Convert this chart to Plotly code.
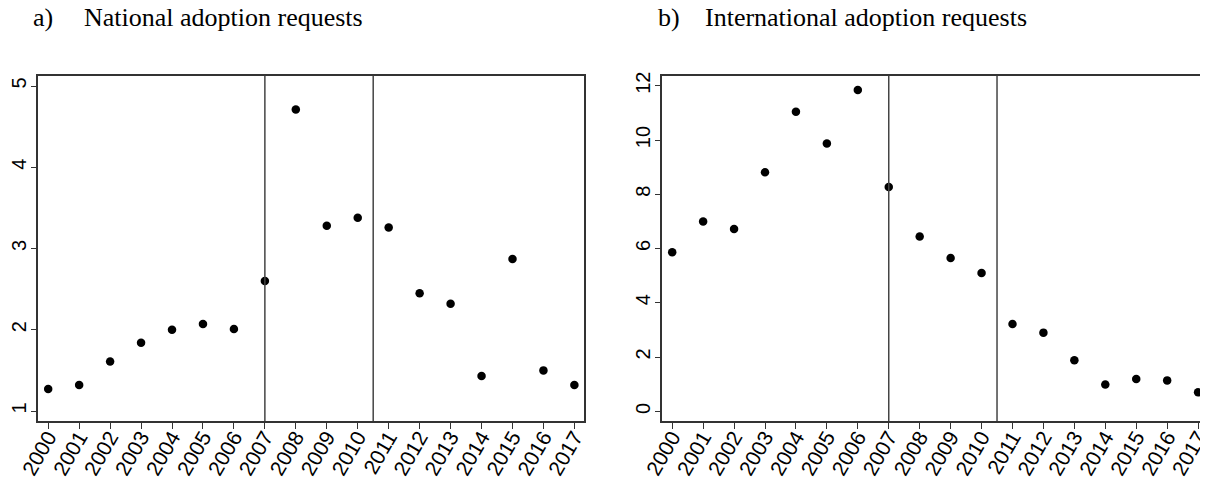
import plotly.graph_objects as go

years = list(range(2000, 2018))
national = [1.27, 1.32, 1.61, 1.84, 2.00, 2.07, 2.01, 2.60, 4.71,
            3.28, 3.38, 3.26, 2.45, 2.32, 1.43, 2.87, 1.50, 1.32]
international = [5.86, 7.00, 6.72, 8.81, 11.04, 9.87, 11.84, 8.27, 6.44,
                 5.65, 5.10, 3.22, 2.90, 1.88, 0.99, 1.19, 1.14, 0.70]
vlines = [2007, 2010.5]
ticks_a = [1, 2, 3, 4, 5]
ticks_b = [0, 2, 4, 6, 8, 10, 12]
title_labels = ["a)", "b)"]
title_texts = ["National adoption requests", "International adoption requests"]

# page body has an 8px margin; figure occupies the rest of the 1208x479 window
OFF = 8
W, H = 1208 - OFF, 479 - OFF


def px(x):
    return (x - OFF) / W


def py(y):
    return 1 - (y - OFF) / H


fig = go.Figure()
fig.add_trace(go.Scatter(x=years, y=national, mode="markers",
                         marker=dict(color="black", size=8.5), xaxis="x", yaxis="y",
                         showlegend=False, cliponaxis=False))
fig.add_trace(go.Scatter(x=years, y=international, mode="markers",
                         marker=dict(color="black", size=8.5), xaxis="x2", yaxis="y2",
                         showlegend=False, cliponaxis=False))

tickfont = dict(family="Liberation Sans, Arial, sans-serif", size=20, color="black")
xtickfont = dict(family="Liberation Sans, Arial, sans-serif", size=21, color="black")
xcommon = dict(range=[1999.68, 2017.32], tickvals=years, ticktext=[str(y) for y in years],
               tickangle=-60, ticks="outside", ticklen=6, tickcolor="#333",
               showline=True, linecolor="#333", linewidth=1.5, mirror=True,
               showgrid=False, zeroline=False, tickfont=xtickfont, automargin=False,
               ticklabeloverflow="allow", ticklabelstandoff=-12)
ycommon = dict(ticks="outside", ticklen=6, tickcolor="#333", tickangle=-90,
               showline=True, linecolor="#333", linewidth=1.5, mirror=True,
               showgrid=False, zeroline=False, tickfont=tickfont, automargin=False,
               ticklabeloverflow="allow", ticklabelstandoff=-3)

ydom = [py(421), py(75.7)]
fig.update_layout(
    width=W, height=H, margin=dict(l=0, r=0, t=0, b=0),
    paper_bgcolor="white", plot_bgcolor="white", template="none",
    xaxis=dict(domain=[px(38.3), px(584.3)], anchor="y", **xcommon),
    yaxis=dict(domain=ydom, anchor="x", range=[0.877, 5.127], tickvals=ticks_a, **ycommon),
    xaxis2=dict(domain=[px(662.3), 1.0], anchor="y2", **xcommon),
    yaxis2=dict(domain=ydom, anchor="x2", range=[-0.357, 12.37], tickvals=ticks_b, **ycommon),
)

for xr, yr in [("x", "y"), ("x2", "y2")]:
    for v in vlines:
        fig.add_shape(type="line", xref=xr, yref=f"{yr} domain", x0=v, x1=v, y0=0, y1=1,
                      line=dict(color="#444", width=1.5))

titlefont = dict(family="Liberation Serif, Times New Roman, serif", size=26, color="black")
lab_x = [31, 656]
txt_x = [81.5, 703]
for i in range(2):
    fig.add_annotation(text=title_labels[i], x=px(lab_x[i]), y=py(25), xref="paper", yref="paper",
                       xanchor="left", yanchor="bottom", showarrow=False, font=titlefont,
                       yshift=-9)
    fig.add_annotation(text=title_texts[i], x=px(txt_x[i]), y=py(25), xref="paper", yref="paper",
                       xanchor="left", yanchor="bottom", showarrow=False, font=titlefont,
                       yshift=-9)

fig.write_html("out.html")
